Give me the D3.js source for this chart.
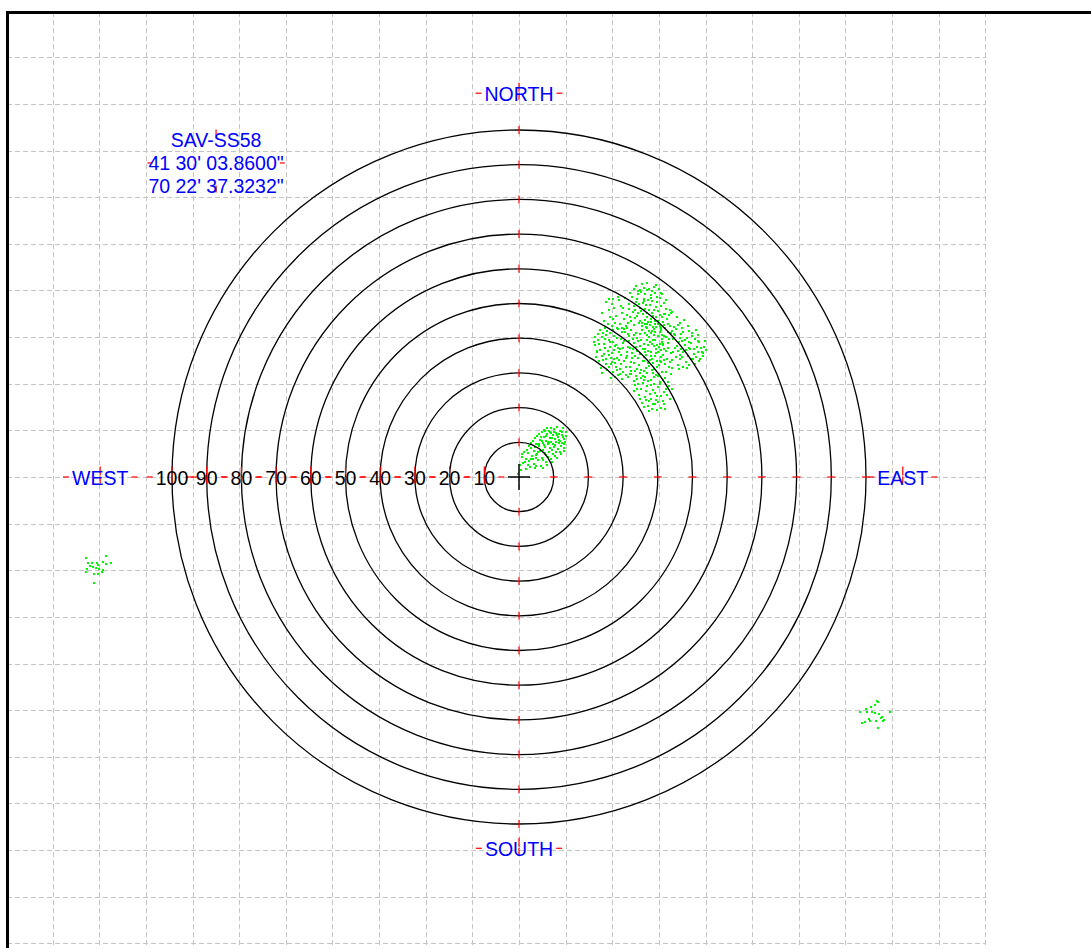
<!DOCTYPE html>
<html>
<head>
<meta charset="utf-8">
<script src="https://cdn.jsdelivr.net/npm/d3@7"></script>
<style>
  html, body { margin: 0; padding: 0; background: #fff; }
  svg { display: block; }
</style>
</head>
<body>
<script>
// ---------------- DATA ----------------
const ringValues = [10, 20, 30, 40, 50, 60, 70, 80, 90, 100];
const ringLabels = ["10", "20", "30", "40", "50", "60", "70", "80", "90", "100"];
const gridStep = 13.44;                 // grid spacing in chart units
const gridCols = [-10,-9,-8,-7,-6,-5,-4,-3,-2,-1,0,1,2,3,4,5,6,7,8,9,10];
const gridRows = [-10,-9,-8,-7,-6,-5,-4,-3,-2,-1,0,1,2,3,4,5,6,7,8,9];
const compassNames = ["NORTH", "SOUTH", "EAST", "WEST"];
const compassEast  = [0, 0, 110.6, -120.7];
const compassNorth = [110.6, -107.0, 0, 0];
const stationLines = ["SAV-SS58", "41 30' 03.8600\"", "70 22' 37.3232\""];
const stationPos = [-87.3, 90.5];

// scatter points [east, north] in chart units
const clusterNE = [
[33.1,54.2],[35.4,55.6],[36.8,53.9],[34.2,52.7],[37.9,52.4],[39.3,53.1],[32.6,51.8],[35.9,51.2],[38.4,50.7],[40.6,51.5],
[41.8,50.2],[33.8,50.4],[36.7,49.6],[39.6,49.1],[31.7,49.8],[34.9,48.6],[37.5,48.1],[40.2,47.8],[42.3,48.4],[32.9,47.5],
[35.6,46.9],[38.7,46.4],[41.1,46.0],[33.5,45.8],[36.3,45.2],[39.2,44.9],[42.6,45.5],[34.7,44.4],[37.8,43.9],[40.5,43.5],
[31.2,46.6],[36.1,54.6],[38.9,54.8],[34.3,53.5],[40.8,52.9],[37.2,50.9],[33.0,49.2],[39.9,50.4],[35.2,47.7],[41.7,47.1],
[36.9,47.3],[38.1,45.6],[34.0,46.3],[43.1,46.8],[32.4,44.9],[40.1,45.1],[36.5,43.3],[39.0,42.6],[41.9,43.9],[35.8,50.1],
[25.1,50.3],[27.4,48.6],[26.2,46.1],[28.9,50.9],[29.8,47.2],[24.6,45.0],[27.8,44.3],[30.4,45.4],[28.3,42.8],[26.7,43.5],
[31.0,42.9],[29.3,49.2],[25.9,48.0],[30.6,51.6],[27.1,51.4],
[21.5,38.9],[22.8,41.2],[23.4,36.7],[24.7,39.8],[25.3,42.1],[26.1,37.5],[22.3,34.6],[24.1,33.8],[25.9,35.2],[27.3,40.6],
[28.0,38.1],[26.8,33.1],[28.7,35.9],[29.6,41.7],[30.2,39.2],[29.1,36.8],[31.4,37.6],[30.7,34.4],[27.9,31.7],[25.5,30.9],
[23.6,31.5],[29.4,32.5],[31.8,40.5],[32.6,35.8],[33.1,38.7],[32.2,33.1],[34.0,36.2],[33.7,41.4],[35.2,39.5],[34.6,32.4],
[35.9,34.7],[30.0,30.2],[28.5,29.3],[31.5,28.8],[33.3,30.6],[26.4,28.5],[22.0,37.9],[23.9,40.3],[24.9,37.1],[27.0,39.0],
[26.3,41.5],[28.4,42.6],[29.9,38.5],[31.0,36.1],[28.2,34.2],[25.1,32.6],[27.5,36.6],[30.6,41.9],[32.4,42.3],[33.9,40.0],
[34.8,37.7],[32.9,36.9],[31.9,31.8],[30.3,33.3],[29.0,31.0],[27.2,30.4],[24.4,35.4],[26.6,34.3],[23.1,38.4],[35.4,42.5],
[35.7,36.8],[34.3,34.3],[33.0,32.8],[35.1,30.9],[32.0,29.7],[29.7,28.2],[27.6,32.8],[25.8,39.5],[22.6,35.9],[30.9,43.6],
[40.6,41.8],[42.1,42.9],[43.7,41.4],[45.2,42.6],[46.8,41.1],[48.3,40.2],[44.5,39.7],[42.9,38.6],[41.2,39.9],[46.1,38.8],
[47.7,37.9],[49.6,38.6],[51.2,37.4],[52.7,36.1],[50.3,35.5],[48.6,34.9],[45.7,36.4],[43.8,35.7],[41.7,36.9],[44.2,33.6],
[46.5,33.9],[49.1,32.4],[51.8,33.3],[47.4,31.7],[42.6,34.1],[40.8,33.2],[53.1,34.8],[50.7,39.7],[45.0,40.8],[47.0,43.0],
[49.8,41.5],[43.4,43.6],[41.5,35.3],[44.9,37.3],[48.0,36.6],[52.0,38.8],[46.3,35.2],[43.1,31.6],[45.8,32.2],[50.0,33.9],
[42.4,40.4],[47.9,39.5],[44.0,42.0],[40.3,37.6],[46.7,37.0],[51.5,35.9],[49.3,36.9],[48.8,43.6],[50.9,42.3],[53.4,37.4],
[36.2,44.1],[37.4,42.2],[38.8,40.9],[36.9,39.6],[38.2,38.3],[39.6,36.9],[37.3,36.4],[39.1,34.8],[40.2,35.9],[37.8,33.7],
[36.3,41.5],[39.5,43.1],[38.0,44.6],[37.1,37.9],[40.0,40.7],[36.6,35.2],[38.6,32.9],[39.8,31.6],[37.5,31.9],[36.0,33.5],
[38.3,42.0],[39.3,39.4],[41.0,42.3],[36.8,43.0],[40.6,38.4],[37.9,35.0],[41.3,41.0],[38.9,37.7],[37.6,40.3],[39.9,33.4],
[36.4,37.0],[38.4,30.8],[40.9,34.6],[37.0,29.9],[39.2,44.0],[35.9,38.4],[41.6,38.1],[38.1,36.1],[40.4,32.4],[36.7,31.3],
[32.4,29.6],[34.1,28.3],[35.8,29.1],[37.3,27.6],[39.0,28.8],[40.7,27.3],[42.2,28.5],[33.5,26.4],[35.1,25.5],[36.9,26.1],
[38.5,25.0],[40.2,25.8],[41.8,24.6],[43.3,26.2],[34.6,23.7],[36.3,23.1],[38.0,22.4],[39.7,23.4],[41.4,22.0],[35.5,21.2],
[37.2,20.6],[39.1,20.9],[40.8,19.8],[36.1,27.9],[38.8,26.9],[33.2,24.8],[42.7,23.5],[37.7,24.0],[39.5,29.5],[34.9,30.1],
[41.2,30.4],[43.8,29.7],[36.6,22.2],[38.3,19.6],[40.1,21.7],
[45.4,46.2],[46.4,44.3],[44.1,47.5],[47.6,45.3],
[32.0,53.0],[33.6,55.1],[34.8,54.0],[36.3,52.6],[37.6,54.3],[38.2,53.6],[39.8,51.9],[41.2,52.6],[42.5,50.9],[40.9,49.3],
[39.0,48.0],[37.8,49.5],[36.2,48.3],[34.5,49.9],[33.3,48.0],[32.1,46.0],[34.4,47.2],[35.0,45.1],[36.8,46.2],[38.3,47.3],
[40.7,46.8],[42.0,46.9],[43.4,48.0],[41.4,44.7],[39.6,46.0],[37.2,44.6],[35.5,43.6],[33.2,43.8],[38.7,43.3],[40.0,44.2],
[42.8,44.1],[31.6,48.3],[36.0,50.6],[38.0,51.6],[34.1,51.3],[39.4,55.4],[37.0,55.9],[35.1,53.3],[40.3,54.1],[43.7,47.2],
[24.0,47.3],[25.6,44.0],[26.9,49.8],[28.0,46.5],[29.1,44.2],[30.0,48.6],[28.6,51.8],[26.0,51.2],[24.9,42.9],[27.2,45.4],
[29.6,43.0],[31.3,44.5],
[21.9,40.3],[22.4,36.2],[23.3,42.4],[23.0,33.5],[24.3,41.6],[24.5,38.2],[25.0,34.1],[25.7,36.4],[26.2,39.0],[26.0,31.7],
[27.0,42.4],[26.9,35.6],[27.7,37.7],[27.4,34.0],[28.1,40.0],[28.3,30.8],[28.9,33.6],[29.3,39.9],[29.5,35.1],[30.1,37.1],
[30.4,42.6],[30.8,31.6],[31.2,34.9],[31.6,39.3],[31.3,41.2],[32.1,37.3],[32.4,30.5],[32.7,34.4],[33.0,41.0],[33.5,35.0],
[33.6,37.6],[34.1,31.0],[34.4,39.1],[34.9,35.5],[35.0,41.3],[35.6,33.3],[35.3,28.4],[33.8,29.1],[30.9,29.4],[29.1,29.6],
[27.8,28.9],[24.0,30.0],[22.9,39.5],[25.2,40.8],[23.8,34.9],[26.5,32.6],[28.6,37.3],[32.8,39.8],
[40.9,43.0],[41.8,40.7],[43.2,39.8],[44.8,41.3],[45.9,43.7],[46.4,40.0],[47.3,41.8],[48.9,38.9],[49.9,40.6],[51.6,39.1],
[52.4,37.2],[53.0,35.7],[51.0,34.6],[49.5,34.1],[48.2,33.2],[47.1,34.6],[45.3,34.6],[43.5,33.0],[42.0,32.6],[44.0,31.4],
[46.0,31.0],[48.5,31.5],[50.6,32.7],[52.3,34.1],[43.0,37.1],[44.4,35.9],[45.6,37.8],[47.2,36.1],[48.9,37.3],[50.4,36.8],
[41.4,38.3],[42.8,41.8],[46.9,39.2],[49.0,42.1],[44.6,43.2],[51.7,41.0],[54.0,36.5],[53.6,39.2],
[35.5,44.4],[36.8,41.0],[37.9,41.5],[38.6,39.4],[39.8,38.0],[40.8,36.6],[37.7,38.9],[36.2,36.0],[38.4,34.1],[39.4,35.7],
[40.5,33.3],[37.2,32.8],[38.9,31.2],[36.0,30.6],[41.9,33.8],[42.5,36.2],[41.1,39.0],[39.1,41.8],[37.0,44.0],[38.7,29.9],
[40.0,29.0],[42.4,30.2],
[33.0,27.6],[34.4,26.8],[35.7,27.0],[36.6,24.9],[37.9,26.4],[39.3,24.3],[40.6,26.9],[41.5,28.0],[42.9,27.4],[44.2,25.4],
[42.3,25.4],[40.9,23.3],[39.4,22.2],[37.4,21.8],[36.0,20.1],[38.6,21.0],[39.9,19.4],[41.9,21.0],[43.4,22.6],[35.0,22.4],
[34.0,25.3],[36.4,28.9],[38.1,28.0],[42.0,19.5],[37.5,18.9]
];
const clusterCenter = [
[1.2,3.9],[2.1,5.3],[3.0,4.6],[2.6,6.8],[3.8,6.1],[4.4,7.5],[3.5,8.4],[5.1,6.7],[5.7,8.9],[4.8,9.6],
[6.3,7.4],[6.9,9.8],[6.1,10.7],[7.5,8.6],[7.9,10.5],[7.2,11.6],[8.4,9.4],[8.8,11.2],[8.1,12.4],[9.3,10.1],
[9.7,12.0],[9.0,13.1],[10.4,11.0],[10.8,12.7],[11.3,11.6],[11.8,13.2],[12.4,12.1],[12.9,10.9],[13.5,11.8],[11.6,9.7],
[10.2,8.6],[9.5,7.8],[8.6,7.1],[7.7,6.3],[6.6,5.6],[5.4,4.8],[4.2,3.7],[3.3,2.9],[2.0,2.4],[0.6,1.9],
[1.5,7.2],[2.9,8.9],[4.1,10.3],[5.3,11.8],[6.7,12.9],[8.0,14.1],[10.0,13.9],[11.0,14.3],[12.1,9.0],[13.1,9.6],
[-0.3,0.8],[0.9,5.9],[3.9,5.3],[5.9,9.6],[7.0,7.9],[8.3,10.2],[9.9,9.4],[6.4,11.6],[4.6,8.7],[11.9,10.5],
[10.6,10.0],[7.6,13.3],[5.0,3.1],[13.6,12.9],[12.6,14.0],
[4.5,2.5],[6.2,3.3],[7.8,4.2],[9.2,5.1],[10.5,6.0],[11.8,7.1],[12.9,8.4],[13.4,10.2],[5.0,5.6],[6.8,4.9],
[8.3,5.8],[9.8,6.7],[11.2,8.2],[12.5,9.8],[7.4,6.9],[8.9,8.3],[10.3,9.1],[11.5,10.6],[12.7,11.4],[6.0,7.6],
[7.2,9.1],[8.6,9.9],[9.6,11.3],[10.9,12.2],[12.3,13.0],[5.2,9.4],[6.5,10.3],[7.7,11.8],[9.3,12.6],[8.7,13.4],
[10.1,13.0],[3.4,9.8],[4.5,11.1],[5.8,12.5],[7.1,13.6],[2.3,7.9],[1.0,6.6],[0.3,3.5],[1.8,4.4],[2.7,3.5],
[3.6,5.2],[4.9,6.2],[5.6,7.1],[9.4,4.3],[11.0,5.5],[12.2,6.6],[13.0,7.5],[6.9,2.7],[8.1,3.5],[10.7,7.3],
[11.6,12.4],[9.1,14.0]
];
const clusterWest = [
[-124.7,-23.3],[-124.1,-24.7],[-123.0,-24.7],[-123.6,-25.6],[-121.6,-24.7],[-121.3,-25.3],[-119.8,-24.4],[-119.0,-22.7],
[-119.0,-25.0],[-117.5,-24.7],[-124.4,-26.4],[-124.7,-27.3],[-122.7,-25.9],[-121.8,-26.1],[-120.9,-26.4],[-119.8,-26.7],
[-122.4,-27.9],[-121.3,-27.9],[-122.4,-30.5],[-120.2,-27.3]
];
const clusterSE = [
[103.1,-64.6],[103.5,-64.9],[102.6,-65.7],[101.4,-66.2],[99.9,-66.9],[98.2,-67.8],[101.8,-67.6],[102.6,-68.1],
[103.7,-68.4],[104.5,-69.1],[105.2,-70.0],[104.9,-70.3],[100.4,-67.8],[100.9,-69.7],[101.1,-70.3],[99.7,-70.5],
[98.9,-70.8],[102.8,-70.3],[103.5,-72.4],[106.8,-67.8],[104.2,-69.5]
];

// ---------------- LAYOUT ----------------
const W = 1091, H = 948;
const cx0 = 519, cy0 = 477, pxPerUnit = 3.47;
const x = d3.scaleLinear().domain([-150, 150]).range([cx0 - 150 * pxPerUnit, cx0 + 150 * pxPerUnit]);
const y = d3.scaleLinear().domain([-150, 150]).range([cy0 + 150 * pxPerUnit, cy0 - 150 * pxPerUnit]);
const r = d3.scaleLinear().domain([0, 100]).range([0, 100 * pxPerUnit]);

const FONT = "'Liberation Sans', Arial, sans-serif";
const FS = 19.5;

const svg = d3.select("body").append("svg").attr("width", W).attr("height", H);
svg.append("rect").attr("width", W).attr("height", H).attr("fill", "#fff");

// grid
const grid = svg.append("g").attr("stroke", "#c4c4c4").attr("stroke-width", 1)
  .attr("stroke-dasharray", "5,3").attr("shape-rendering", "crispEdges");
const plotLeft = 7, plotTop = 12;
grid.selectAll("line.v").data(gridCols).join("line").attr("class", "v")
  .attr("x1", d => Math.round(x(d * gridStep)) + 0.5).attr("x2", d => Math.round(x(d * gridStep)) + 0.5)
  .attr("y1", plotTop).attr("y2", H);
grid.selectAll("line.h").data(gridRows).join("line").attr("class", "h")
  .attr("y1", d => Math.round(y(d * gridStep)) + 0.5).attr("y2", d => Math.round(y(d * gridStep)) + 0.5)
  .attr("x1", plotLeft).attr("x2", Math.round(x(10 * gridStep)) + 1);

// points
const pts = svg.append("g").attr("fill", "#00f500").attr("shape-rendering", "crispEdges");
[clusterNE, clusterCenter, clusterWest, clusterSE].forEach(arr => {
  pts.append("g").selectAll("rect").data(arr).join("rect")
    .attr("x", d => Math.round(x(d[0])) - 1).attr("y", d => Math.round(y(d[1])) - 1)
    .attr("width", 2).attr("height", 2);
});

// rings
svg.append("g").attr("fill", "none").attr("stroke", "#000").attr("stroke-width", 1.3)
  .selectAll("circle").data(ringValues).join("circle")
  .attr("cx", x(0)).attr("cy", y(0)).attr("r", d => r(d));

// red ticks at ring crossings on N, S, E axes
const ticks = svg.append("g").attr("stroke", "#ff0000").attr("stroke-width", 1.2);
ringValues.forEach(v => {
  ticks.append("line").attr("x1", x(0)).attr("x2", x(0)).attr("y1", y(v) - 4).attr("y2", y(v) + 4);
  ticks.append("line").attr("x1", x(0)).attr("x2", x(0)).attr("y1", y(-v) - 4).attr("y2", y(-v) + 4);
  ticks.append("line").attr("y1", y(0)).attr("y2", y(0)).attr("x1", x(v) - 4).attr("x2", x(v) + 4);
});

// labels with red cross markers
function label(cxU, cyU, lines, color) {
  const g = svg.append("g");
  const red = g.append("g").attr("stroke", "#ff0000").attr("stroke-width", 1.2);
  const cx = x(cxU), cy = y(cyU);
  const lh = 23, n = lines.length;
  const t = g.append("text").attr("text-anchor", "middle").attr("fill", color)
    .style("font-family", FONT).style("font-size", FS + "px");
  const bases = lines.map((s, i) => cy + 7.5 + (i - (n - 1) / 2) * lh);
  lines.forEach((s, i) => t.append("tspan").attr("x", cx).attr("y", bases[i]).text(s));
  const bb = t.node().getBBox();
  const capTop = bases[0] - 14, base = bases[n - 1];
  const off = n > 1 ? [-1, 4] : [-9, -3];
  red.append("line").attr("x1", bb.x + off[0]).attr("x2", bb.x + off[1]).attr("y1", cy).attr("y2", cy);
  red.append("line").attr("x1", bb.x + bb.width - off[1]).attr("x2", bb.x + bb.width - off[0]).attr("y1", cy).attr("y2", cy);
  red.append("line").attr("x1", cx).attr("x2", cx).attr("y1", capTop - 4).attr("y2", capTop + 5);
  red.append("line").attr("x1", cx).attr("x2", cx).attr("y1", base - 8).attr("y2", base - 1);
}

ringValues.forEach((v, i) => label(-v, 0, [ringLabels[i]], "#000"));
compassNames.forEach((s, i) => label(compassEast[i], compassNorth[i], [s], "#0000ff"));
label(stationPos[0], stationPos[1], stationLines, "#0000ff");

// center cross
const cc = svg.append("g").attr("stroke", "#000").attr("stroke-width", 1.5);
cc.append("line").attr("x1", x(0) - 11).attr("x2", x(0) + 11).attr("y1", y(0)).attr("y2", y(0));
cc.append("line").attr("x1", x(0)).attr("x2", x(0)).attr("y1", y(0) - 13).attr("y2", y(0) + 13);

// frame
svg.append("rect").attr("x", 7.5).attr("y", 12.5).attr("width", 1300).attr("height", 1200)
  .attr("fill", "none").attr("stroke", "#000").attr("stroke-width", 3);
</script>
</body>
</html>
